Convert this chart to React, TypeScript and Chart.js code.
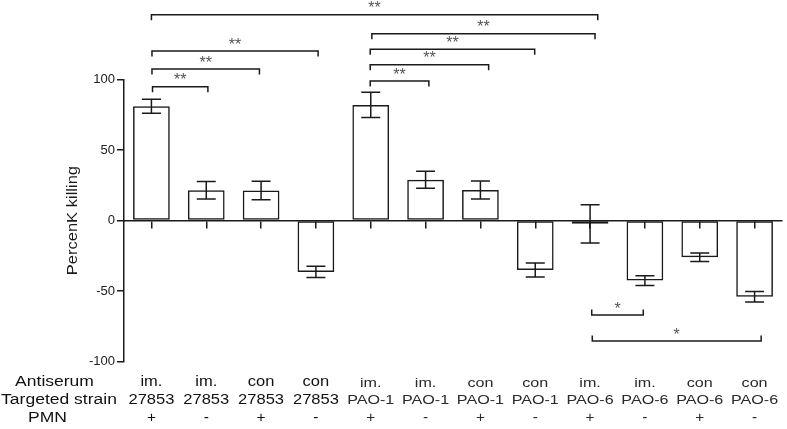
import React, { useEffect, useRef } from 'react';
import { Chart, registerables } from 'chart.js';

Chart.register(...registerables);

const antiserum = ['im.', 'im.', 'con', 'con', 'im.', 'im.', 'con', 'con', 'im.', 'im.', 'con', 'con'];
const strains = ['27853', '27853', '27853', '27853', 'PAO-1', 'PAO-1', 'PAO-1', 'PAO-1', 'PAO-6', 'PAO-6', 'PAO-6', 'PAO-6'];
const pmn = ['+', '-', '+', '-', '+', '-', '+', '-', '+', '-', '+', '-'];
const rowHeaders = ['Antiserum', 'Targeted strain', 'PMN'];
const killing = [81, 21.5, 21.3, -36.4, 82, 29, 21.7, -35, -2.3, -42.5, -26, -54];
const errors = [5, 6.2, 6.5, 4, 9, 6, 6.4, 5, 13.5, 3.5, 3, 3.7];
const yTicks = [-100, -50, 0, 50, 100];
const yTitle = 'PercenK killing';
// brackets: from category, to category, y value, label
const bracketFrom = [0, 4.02, 3.99, 3.99, 3.99, 0.01, 0.01, 0.02, 8.03, 8.04];
const bracketTo = [8.14, 8.09, 6.99, 6.15, 5.06, 3.04, 1.97, 1.03, 8.97, 11.12];
const bracketY = [145.9, 132.5, 121.4, 110.5, 98.9, 120.2, 107.4, 94.9, -66.9, -85.3];
const bracketLabel = ['**', '**', '**', '**', '**', '**', '**', '**', '*', '*'];

const FONT = "'Liberation Sans', Arial, sans-serif";
const INK = '#1a1a1a';

function stretchText(ctx: CanvasRenderingContext2D, text: string, x: number, y: number, size: number, sx: number, color: string) {
  ctx.save();
  ctx.translate(x, y);
  ctx.scale(sx, 1);
  ctx.font = `${size}px ${FONT}`;
  ctx.fillStyle = color;
  ctx.textAlign = 'center';
  ctx.textBaseline = 'middle';
  ctx.fillText(text, 0, 0);
  ctx.restore();
}

const overlayPlugin = {
  id: 'overlay',
  afterDatasetsDraw(chart: any) {
    const ctx: CanvasRenderingContext2D = chart.ctx;
    const xs = chart.scales.x;
    const ys = chart.scales.y;
    ctx.save();
    ctx.strokeStyle = INK;
    ctx.lineWidth = 1.5;
    killing.forEach((v, i) => {
      const x = xs.getPixelForValue(i);
      const yt = ys.getPixelForValue(v + errors[i]);
      const yb = ys.getPixelForValue(v - errors[i]);
      const cw = 9.5;
      ctx.beginPath();
      ctx.moveTo(x, yt);
      ctx.lineTo(x, yb);
      ctx.moveTo(x - cw, yt);
      ctx.lineTo(x + cw, yt);
      ctx.moveTo(x - cw, yb);
      ctx.lineTo(x + cw, yb);
      ctx.stroke();
    });
    ctx.restore();
  },
  afterDraw(chart: any) {
    const ctx: CanvasRenderingContext2D = chart.ctx;
    const xs = chart.scales.x;
    const ys = chart.scales.y;
    const area = chart.chartArea;

    // y title
    ctx.save();
    ctx.translate(73.5, (area.top + area.bottom) / 2);
    ctx.rotate(-Math.PI / 2);
    ctx.scale(1.18, 1);
    ctx.font = `14px ${FONT}`;
    ctx.fillStyle = INK;
    ctx.textAlign = 'center';
    ctx.textBaseline = 'middle';
    ctx.fillText(yTitle, 0, 0);
    ctx.restore();

    // brackets
    ctx.save();
    ctx.strokeStyle = INK;
    ctx.lineWidth = 1.5;
    const starSize = 16;
    bracketY.forEach((bv, k) => {
      const x1 = xs.getPixelForValue(bracketFrom[k]);
      const x2 = xs.getPixelForValue(bracketTo[k]);
      const y = ys.getPixelForValue(bv);
      const dir = bv > 0 ? 1 : -1;
      ctx.beginPath();
      ctx.moveTo(x1, y + 5.5 * dir);
      ctx.lineTo(x1, y);
      ctx.lineTo(x2, y);
      ctx.lineTo(x2, y + 5.5 * dir);
      ctx.stroke();
      ctx.font = `${starSize}px ${FONT}`;
      ctx.fillStyle = '#555';
      ctx.textAlign = 'center';
      ctx.textBaseline = 'alphabetic';
      ctx.fillText(bracketLabel[k], (x1 + x2) / 2, y - 10.5 + 0.575 * starSize);
    });
    ctx.restore();

    // table
    const rows = [area.bottom + 20.5, area.bottom + 38.5, area.bottom + 56.5];
    const hx = [54.5, 59, 47.5];
    rowHeaders.forEach((h, r) => stretchText(ctx, h, hx[r], rows[r], 14, 1.25, '#111'));
    strains.forEach((s, i) => {
      const x = xs.getPixelForValue(i);
      const big = i < 4;
      const size = big ? 14 : 13;
      const sx = big ? 1.18 : 1.24;
      const col = big ? '#111' : '#2a2a2a';
      stretchText(ctx, antiserum[i], x, rows[0] + (big ? 0 : 1), size, sx, col);
      stretchText(ctx, s, x, rows[1] + (big ? 0 : 0.5), size, sx, col);
      stretchText(ctx, pmn[i], x, rows[2], 14, 1.1, col);
    });
  },
};

export default function App() {
  const ref = useRef<HTMLCanvasElement | null>(null);
  useEffect(() => {
    if (!ref.current) return;
    const chart = new Chart(ref.current, {
      type: 'bar',
      data: {
        labels: strains.map((s, i) => `${antiserum[i]} ${s} ${pmn[i]}`),
        datasets: [
          {
            data: killing,
            backgroundColor: 'rgba(0,0,0,0)',
            borderColor: INK,
            borderWidth: 1.5,
            borderSkipped: false,
            categoryPercentage: 1,
            barPercentage: 0.67,
          },
        ],
      },
      options: {
        animation: false,
        responsive: true,
        maintainAspectRatio: false,
        layout: { padding: { top: 79.5, right: 5, bottom: 67.3, left: 0 } },
        plugins: { legend: { display: false }, tooltip: { enabled: false }, title: { display: false } },
        scales: {
          x: {
            type: 'category',
            position: { y: 0 } as any,
            offset: true,
            ticks: { display: false },
            grid: { offset: false, drawOnChartArea: false, drawTicks: true, tickLength: 7, color: INK, lineWidth: 1.5 },
            border: { display: true, color: INK, width: 1.5 },
            afterFit: (s: any) => {
              s.height = 0;
            },
          },
          y: {
            type: 'linear',
            position: 'left',
            min: -100,
            max: 100,
            afterBuildTicks: (s: any) => {
              s.ticks = yTicks.map((v) => ({ value: v }));
            },
            ticks: { font: { family: FONT, size: 13 }, color: '#222', padding: 2 },
            grid: { drawOnChartArea: false, tickLength: 7, color: INK, lineWidth: 1.5 },
            border: { display: true, color: INK, width: 1.5 },
            afterFit: (s: any) => {
              s.width = 124;
            },
          },
        },
      },
      plugins: [overlayPlugin],
    });
    return () => chart.destroy();
  }, []);
  return (
    <div style={{ position: 'fixed', left: 0, top: 0, width: 787, height: 429, background: '#fff' }}>
      <canvas ref={ref} />
    </div>
  );
}
